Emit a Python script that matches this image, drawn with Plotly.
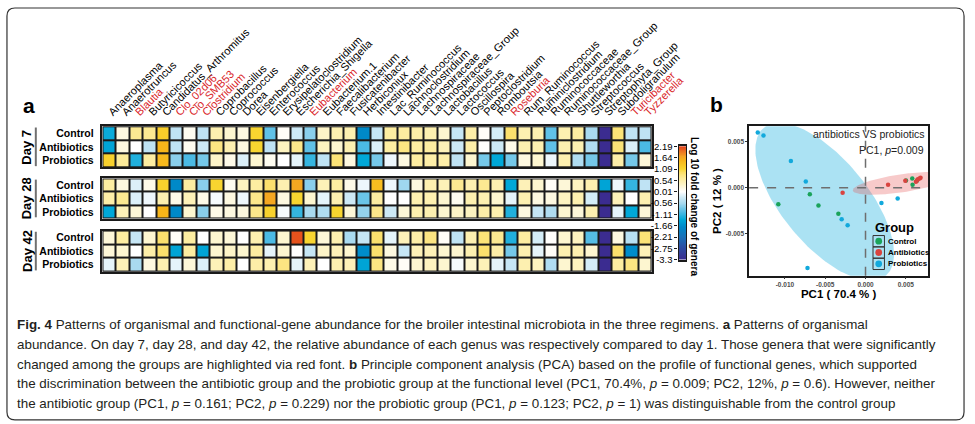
import numpy as np
import plotly.graph_objects as go

# ---------------- data ----------------
genera = ["Anaeroplasma", "Anaerotruncus", "Blautia", "Butyricicoccus", "Candidatus_Arthromitus",
          "Clo_02d06", "Clo_SMB53", "Clostridium", "Coprobacillus", "Coprococcus", "Dorea",
          "Eisenbergiella", "Enterococcus", "Erysipelatoclostridium", "Escherichia_Shigella",
          "Eubacterium", "Eubacterium.1", "Faecalibacterium", "Fusicatenibacter", "Herbiconiux",
          "Intestinibacter", "Lac_Ruminococcus", "Lachnoclostridium", "Lachnospiraceae",
          "Lachnospiraceae_Group", "Lactobacillus", "Lactococcus", "Oscillospira", "Peptoclostridium",
          "Romboutsia", "Roseburia", "Rum_Ruminococcus", "Ruminiclostridium", "Ruminococcaceae",
          "Ruminococcaceae_Group", "Shuttleworthia", "Streptococcus", "Streptophyta_Group",
          "Subdoligranulum", "Turicibacter", "Tyzzerella"]
significant = ["Blautia", "Clo_02d06", "Clo_SMB53", "Clostridium", "Eubacterium", "Roseburia",
               "Turicibacter", "Tyzzerella"]
groups = ["Control", "Antibiotics", "Probiotics"]
days = ["Day 7", "Day 28", "Day 42"]

day7_control = [-1.3, 0.2, 0.7, 0.7, 1.2, -0.4, 0.1, -0.4, 0.5, 0.3, 0.2, 1.1, -0.9, 0.05, -0.3, -0.7, 0.35, 0.5, 0.5, -1.7,
                -0.35, 0.6, 0.6, 0.55, 0.5, 0.3, -0.35, 0.55, 0.05, -0.25, 0.9, 0.5, 0.5, -0.9, 0.5, 0.6, -0.55, -3.3, 0.85, -0.4, -0.4]
day7_antibiotics = [-1.4, 0.2, 0.0, -0.4, 1.5, -0.4, 0.1, -0.3, 0.8, 0.5, 0.2, 1.1, -0.4, 0.4, 0.75, -0.9, 0.4, 0.3, 0.5, -1.0,
                    -0.2, 0.6, 0.8, 0.6, 0.6, 0.45, -0.3, 0.55, 0.02, -0.3, 0.15, 0.5, 0.5, -0.9, 0.5, 0.5, -0.5, -3.3, 0.85, -0.2, -1.0]
day7_probiotics = [1.15, 0.65, -1.2, 0.6, 1.45, -0.7, -1.0, -0.8, 0.35, 0.15, -0.2, 0.3, 0.1, 0.0, -0.15, -1.1, -0.4, 0.85, 0.2, -1.35,
                   -0.8, -0.1, 0.2, 0.6, 0.55, 0.55, -0.4, 0.3, -0.8, -1.35, -0.8, 0.2, 0.3, -0.1, 0.5, -0.5, -0.8, -3.3, 0.55, -0.8, 0.25]

day28_control = [0.6, 0.2, -0.2, 0.15, 1.15, -1.7, 0.6, -0.7, 1.1, 0.1, 0.4, 0.6, 0.9, 0.5, 1.65, -0.7, 0.45, 0.6, 0.15, -0.1,
                 1.4, -0.1, -0.6, 0.2, 0.5, 0.45, 0.7, 0.5, 0.7, 0.5, -1.35, 0.45, 0.3, 0.05, 0.25, 0.4, 0.5, -1.4, -0.1, -1.1, -0.4]
day28_antibiotics = [0.55, 0.7, -0.2, -0.1, 0.5, 0.15, 0.45, 0.15, -0.05, 0.2, -0.1, 0.75, 1.65, 0.2, 1.1, 0.3, -0.15, 0.5, -0.3, -0.85,
                     0.6, 0.0, 0.0, 0.5, 0.5, 0.3, 0.1, 0.5, 0.5, 0.3, -0.15, 0.5, 0.2, 0.2, 0.4, 0.5, -0.25, -3.3, 0.45, 0.0, 0.5]
day28_probiotics = [-1.35, 0.45, 0.25, 0.0, 1.5, -1.7, 0.3, -0.7, 0.15, 0.2, 0.2, 0.75, 1.15, -0.05, -1.1, -0.55, -0.5, 1.1, 0.25, -0.65,
                    0.75, -0.3, 0.25, 0.5, 0.5, 0.3, 0.35, 0.4, 0.55, 0.5, -1.2, 0.2, -0.35, -0.5, 0.3, 0.25, 0.5, -3.3, -0.15, -1.35, 0.25]

day42_control = [0.25, 0.6, -0.35, 0.3, 0.9, 0.05, 0.6, 0.0, 0.3, 0.25, 0.0, 0.5, -1.0, 0.3, 2.1, 1.1, 0.25, 0.5, -0.55, -0.35,
                 0.9, -0.15, 0.45, 0.55, 0.8, 0.05, -0.4, 0.5, 0.85, 0.7, -1.2, 0.6, -0.25, 0.02, 0.3, 0.4, -0.95, -3.3, 0.2, -0.45, 0.85]
day42_antibiotics = [0.25, 0.3, 0.0, 0.55, 0.9, -1.4, 0.6, -1.4, 0.3, 0.35, 0.3, 0.6, -0.15, 0.3, 0.0, -0.35, 0.35, 0.45, 0.3, -1.65,
                     0.9, 0.2, -0.35, 0.45, 0.45, 0.3, 0.3, 0.5, 0.9, 0.55, -0.8, 0.5, -0.15, 0.05, 0.5, 0.5, 0.3, -3.3, 0.9, -1.65, 0.45]
day42_probiotics = [-0.15, 0.45, -0.55, 0.2, 0.5, -0.15, 0.25, -0.2, 0.45, 0.55, 0.0, 0.55, 0.5, 0.8, -0.15, 0.45, 0.0, 0.5, 0.45, -1.4,
                    0.8, 0.15, 0.05, 0.3, 0.4, 0.3, -0.05, 0.3, 0.45, -0.15, -0.35, 0.5, 0.4, -0.5, 0.3, 0.4, -0.25, -3.3, 0.6, 0.8, 0.3]

colorbar_ticks = [2.19, 1.64, 1.09, 0.54, 0.01, -0.56, -1.11, -1.66, -2.21, -2.75, -3.3]
z_min, z_max = -3.3, 2.19

# PCA points
pca_groups = ["Control", "Antibiotics", "Probiotics"]
pca_colors = ['#1aa35a', '#d9443f', '#12a9dc']
control_pc1 = [-0.00691, -0.01082, -0.00584, -0.00337, 0.00502, 0.00580, 0.00584, 0.00638]
control_pc2 = [-0.00070, -0.00178, -0.00192, -0.00283, 0.00079, 0.00101, 0.00033, 0.00076]
antibiotics_pc1 = [-0.00284, 0.00280, 0.00494, 0.00626, 0.00650, 0.00671, 0.00683, 0.00640]
antibiotics_pc2 = [-0.00054, 0.00033, 0.00076, 0.00065, 0.00093, 0.00101, 0.00109, 0.00080]
probiotics_pc1 = [-0.01337, -0.01266, -0.00926, -0.00741, -0.00296, -0.00222, 0.00198, 0.00399, -0.00720]
probiotics_pc2 = [0.00598, 0.00565, 0.00289, 0.00068, -0.00341, -0.00406, -0.00167, -0.00116, -0.00870]

# confidence ellipses: centre, major half-axis vector, minor half-axis vector (data units)
probiotics_ellipse = dict(c=(-0.00506, -0.00152), a=(0.00758, -0.00801), b=(0.00408, 0.00299))
antibiotics_ellipse = dict(c=(0.00441, 0.00047), a=(0.00599, 0.00077), b=(-0.00016, 0.00097))

pca_xticks = [-0.010, -0.005, 0.000, 0.005]
pca_yticks = [-0.005, 0.000, 0.005]

caption_lines = [
    "<b>Fig. 4</b> Patterns of organismal and functional-gene abundance for the broiler intestinal microbiota in the three regimens. <b>a</b> Patterns of organismal",
    "abundance. On day 7, day 28, and day 42, the relative abundance of each genus was respectively compared to day 1. Those genera that were significantly",
    "changed among the groups are highlighted via red font. <b>b</b> Principle component analysis (PCA) based on the profile of functional genes, which supported",
    "the discrimination between the antibiotic group and the probiotic group at the functional level (PC1, 70.4%, <i>p</i> = 0.009; PC2, 12%, <i>p</i> = 0.6). However, neither",
    "the antibiotic group (PC1, <i>p</i> = 0.161; PC2, <i>p</i> = 0.229) nor the probiotic group (PC1, <i>p</i> = 0.123; PC2, <i>p</i> = 1) was distinguishable from the control group",
]

# ---------------- figure ----------------
W, H = 975, 424
FIG_W, FIG_H = 1004, 436
Y_OFF = 3
def px(x): return x / W
def py(y): return 1 - (y - Y_OFF) / H

FONT = "Liberation Sans, Arial, sans-serif"
colorscale = [
    [0.0, '#3b2c90'], [0.1, '#2e4aa2'], [0.2, '#1a70b8'], [0.29, '#0088c8'],
    [0.355, '#00a8d8'], [0.42, '#4cbae4'], [0.5, '#a8daf0'], [0.56, '#d8eef8'],
    [0.601, '#ffffff'], [0.64, '#fdf8de'], [0.692, '#fdf0b0'], [0.74, '#fce789'],
    [0.77, '#fbdf68'], [0.80, '#f8d630'], [0.875, '#f7b51a'], [0.91, '#f4a223'], [1.0, '#e2401c'],
]

fig = go.Figure()
blocks = [
    [day7_control, day7_antibiotics, day7_probiotics],
    [day28_control, day28_antibiotics, day28_probiotics],
    [day42_control, day42_antibiotics, day42_probiotics],
]
xs = list(range(len(genera)))
for i, blk in enumerate(blocks):
    sfx = "" if i == 0 else str(i + 1)
    fig.add_trace(go.Heatmap(z=blk, x=xs, y=groups, coloraxis="coloraxis", xgap=2, ygap=2,
                             xaxis="x" + sfx, yaxis="y" + sfx, hoverinfo="skip"))

# colour bar drawn as a one-column heatmap on its own axis
grad = np.linspace(z_min, z_max, 300)
fig.add_trace(go.Heatmap(z=[[v] for v in grad], x=[0], y=grad, coloraxis="coloraxis",
                         xaxis="x4", yaxis="y4", hoverinfo="skip"))

# PCA ellipses
t = np.linspace(0, 2 * np.pi, 200)
for el, col in [(probiotics_ellipse, 'rgba(0,168,220,0.33)'), (antibiotics_ellipse, 'rgba(228,80,80,0.30)')]:
    ex = el['c'][0] + el['a'][0] * np.cos(t) + el['b'][0] * np.sin(t)
    ey = el['c'][1] + el['a'][1] * np.cos(t) + el['b'][1] * np.sin(t)
    fig.add_trace(go.Scatter(x=ex, y=ey, mode='lines', fill='toself', fillcolor=col,
                             line=dict(width=0), showlegend=False, hoverinfo='skip',
                             xaxis='x5', yaxis='y5'))

for name, xv, yv, col in zip(pca_groups, [control_pc1, antibiotics_pc1, probiotics_pc1],
                             [control_pc2, antibiotics_pc2, probiotics_pc2], pca_colors):
    fig.add_trace(go.Scatter(x=xv, y=yv, mode='markers', name=name, showlegend=False,
                             marker=dict(color=col, size=4.5), xaxis='x5', yaxis='y5'))

ticktext = [f"<span style='color:#d9262a'>{g}</span>" if g in significant else g for g in genera]

hm_xdom = [px(103), px(655)]
ydoms = [[py(164), py(123)], [py(215), py(175)], [py(268), py(227)]]
ax_line = dict(showline=True, linecolor='#1a1a1a', linewidth=1.5, mirror=True, showgrid=False, zeroline=False)

layout = dict(
    width=FIG_W, height=FIG_H, margin=dict(l=0, r=0, t=0, b=0, pad=0),
    paper_bgcolor='white', plot_bgcolor='white',
    font=dict(family=FONT, color='black'),
    coloraxis=dict(colorscale=colorscale, cmin=z_min, cmax=z_max, showscale=False),
    showlegend=False,
)
for i in range(3):
    sfx = "" if i == 0 else str(i + 1)
    xa = dict(domain=hm_xdom, anchor='y' + sfx, range=[-0.5, len(genera) - 0.5], **ax_line)
    if i == 0:
        xa.update(side='top', tickvals=xs, ticktext=ticktext, tickangle=-45,
                  tickfont=dict(size=11, family=FONT), ticks='outside', ticklen=2,
                  tickcolor='rgba(0,0,0,0)')
    else:
        xa.update(showticklabels=False, ticks='')
    ya = dict(domain=ydoms[i], anchor='x' + sfx, autorange='reversed',
              tickfont=dict(size=10.5, family=FONT, weight='bold'), ticks='outside', ticklen=5,
              tickcolor='rgba(0,0,0,0)', **ax_line)
    layout['xaxis' + sfx] = xa
    layout['yaxis' + sfx] = ya

layout['xaxis4'] = dict(domain=[px(682), px(690)], anchor='y4', showticklabels=False, ticks='',
                        range=[-0.5, 0.5], **ax_line)
layout['yaxis4'] = dict(domain=[py(256), py(143)], anchor='x4', range=[z_min, z_max],
                        tickvals=colorbar_ticks, ticktext=[str(v) for v in colorbar_ticks],
                        ticks='outside', ticklen=3, tickcolor='#1a1a1a', tickwidth=1,
                        tickfont=dict(size=9.5, family=FONT), side='left',
                        showline=True, linecolor='#1a1a1a', linewidth=1.2, mirror=True,
                        showgrid=False, zeroline=False)

layout['xaxis5'] = dict(domain=[px(753), px(933)], anchor='y5', range=[-0.01444, 0.00778],
                        tickvals=pca_xticks, ticktext=[f"{v:.3f}" for v in pca_xticks],
                        ticks='outside', ticklen=2, tickcolor='#333', tickwidth=1,
                        tickfont=dict(size=6.5, family=FONT, weight='bold', color='#4d4d4d'),
                        title=dict(text='<b>PC1 ( 70.4 % )</b>', font=dict(size=11.5, family=FONT), standoff=3),
                        **ax_line)
layout['yaxis5'] = dict(domain=[py(272), py(123)], anchor='x5', range=[-0.00953, 0.00666],
                        tickvals=pca_yticks, ticktext=[f"{v:.3f}" for v in pca_yticks],
                        ticks='outside', ticklen=2, tickcolor='#333', tickwidth=1,
                        tickfont=dict(size=6.5, family=FONT, weight='bold', color='#4d4d4d'),
                        title=dict(text='<b>PC2 ( 12 % )</b>', font=dict(size=11.5, family=FONT), standoff=2),
                        **ax_line)
fig.update_layout(**layout)

shapes = []
for i in range(3):
    sfx = "" if i == 0 else str(i + 1)
    shapes.append(dict(type='rect', xref='x' + sfx + ' domain', yref='y' + sfx + ' domain',
                       x0=0, x1=1, y0=0, y1=1, fillcolor='#1a1a1a', line=dict(width=0), layer='below'))
    shapes.append(dict(type='line', xref='paper', yref='y' + sfx + ' domain',
                       x0=px(36), x1=px(36), y0=0.03, y1=0.97, line=dict(color='#707070', width=2)))
shapes.append(dict(type='line', xref='x5', yref='y5 domain', x0=0, x1=0, y0=0, y1=1,
                   line=dict(color='#6e6e6e', width=1.5, dash='dash')))
shapes.append(dict(type='line', xref='x5 domain', yref='y5', x0=0, x1=1, y0=0, y1=0,
                   line=dict(color='#6e6e6e', width=1.5, dash='dash')))

# legend (ggplot style key boxes)
key_x0, key_x1 = 877.5, 889.0
key_top, key_h = 232.0, 11.3
ann = []
for k, (g, col) in enumerate(zip(pca_groups, pca_colors)):
    ty = key_top + k * key_h
    shapes.append(dict(type='rect', xref='paper', yref='paper', x0=px(key_x0), x1=px(key_x1),
                       y0=py(ty + key_h), y1=py(ty), line=dict(color='#333', width=1), fillcolor='rgba(0,0,0,0)'))
    cx, cy, r = (key_x0 + key_x1) / 2, ty + key_h / 2, 3.4
    shapes.append(dict(type='circle', xref='paper', yref='paper', x0=px(cx - r), x1=px(cx + r),
                       y0=py(cy + r), y1=py(cy - r), fillcolor=col, line=dict(width=0)))
    ann.append(dict(text=f'<b>{g}</b>', x=px(key_x1 + 1.5), y=py(cy), xref='paper', yref='paper',
                    xanchor='left', yanchor='middle', showarrow=False, font=dict(size=8, family=FONT)))
ann.append(dict(text='<b>Group</b>', x=px(877), y=py(224), xref='paper', yref='paper',
                xanchor='left', yanchor='middle', showarrow=False, font=dict(size=13, family=FONT)))

# outer rounded border
x0, x1, y0, y1 = px(7), px(969), py(416), py(5)
rx, ry = 8 / W, 8 / H
path = (f"M {x0+rx},{y1} L {x1-rx},{y1} Q {x1},{y1} {x1},{y1-ry} L {x1},{y0+ry} "
        f"Q {x1},{y0} {x1-rx},{y0} L {x0+rx},{y0} Q {x0},{y0} {x0},{y0+ry} "
        f"L {x0},{y1-ry} Q {x0},{y1} {x0+rx},{y1} Z")
shapes.append(dict(type='path', xref='paper', yref='paper', path=path,
                   line=dict(color='#333333', width=1.2)))
fig.update_layout(shapes=shapes)

ann.append(dict(text='<b>a</b>', x=px(21), y=py(102), xref='paper', yref='paper', xanchor='left',
                yanchor='middle', showarrow=False, font=dict(size=21, family=FONT)))
ann.append(dict(text='<b>b</b>', x=px(712), y=py(101), xref='paper', yref='paper', xanchor='left',
                yanchor='middle', showarrow=False, font=dict(size=21, family=FONT)))
for i, d in enumerate(days):
    sfx = "" if i == 0 else str(i + 1)
    ann.append(dict(text=f'<b>{d}</b>', x=px(27), y=0.5, xref='paper', yref='y' + sfx + ' domain',
                    xanchor='center', yanchor='middle',
                    textangle=-90, showarrow=False, font=dict(size=13, family=FONT)))
ann.append(dict(text='<b>Log 10 fold change of genera</b>', x=px(698), y=py(203), xref='paper', yref='paper',
                xanchor='center', yanchor='middle',
                textangle=90, showarrow=False, font=dict(size=10, family=FONT)))
ann.append(dict(text='antibiotics VS probiotics', x=px(931), y=py(131), xref='paper', yref='paper',
                xanchor='right', yanchor='middle', showarrow=False, font=dict(size=10.5, family=FONT, color='#222')))
ann.append(dict(text='PC1, <i>p</i>=0.009', x=px(931), y=py(147), xref='paper', yref='paper',
                xanchor='right', yanchor='middle', showarrow=False, font=dict(size=10.5, family=FONT, color='#222')))
for k, line in enumerate(caption_lines):
    ann.append(dict(text=line, x=px(15), y=py(321 + 19.7 * k), xref='paper', yref='paper',
                    xanchor='left', yanchor='middle', showarrow=False,
                    font=dict(size=13.4, family=FONT, color='#231f20')))
fig.update_layout(annotations=ann)

post = ("document.documentElement.style.margin='0';document.body.style.margin='0';"
        "document.body.style.padding='0';document.documentElement.style.overflow='hidden';"
        "document.body.style.overflow='hidden';")
fig.write_html("out.html", config={'displayModeBar': False}, post_script=post)
